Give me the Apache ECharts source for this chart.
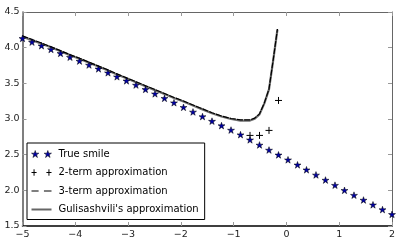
<!DOCTYPE html>
<html><head><meta charset="utf-8">
<script src="https://cdn.jsdelivr.net/npm/echarts@6/dist/echarts.min.js"></script>
<style>html,body{margin:0;padding:0;background:#fff}#c{width:399px;height:245px}</style>
</head><body><div id="c"></div>
<script>
// True smile (blue stars)
const smileX = [-5.00,-4.82,-4.64,-4.46,-4.28,-4.10,-3.92,-3.74,-3.56,-3.38,-3.21,-3.03,-2.85,-2.67,-2.49,-2.31,-2.13,-1.95,-1.77,-1.59,-1.41,-1.23,-1.05,-0.87,-0.69,-0.51,-0.33,-0.15,0.03,0.21,0.38,0.56,0.74,0.92,1.10,1.28,1.46,1.64,1.82,2.00];
const smileY = [4.13,4.078,4.027,3.975,3.92,3.866,3.812,3.757,3.703,3.648,3.592,3.535,3.476,3.415,3.353,3.29,3.228,3.164,3.099,3.034,2.97,2.907,2.845,2.78,2.708,2.636,2.565,2.497,2.428,2.357,2.288,2.216,2.144,2.072,2.0,1.932,1.864,1.797,1.73,1.663];
// 2-term approximation (+ markers, visible where it departs from the curves)
const twoX = [-0.69,-0.51,-0.33,-0.15];
const twoY = [2.77,2.77,2.84,3.26];
// 3-term and Gulisashvili curves
const lineX = [-5,-4.82,-4.64,-4.46,-4.28,-4.10,-3.92,-3.74,-3.56,-3.38,-3.21,-3.03,-2.85,-2.67,-2.49,-2.31,-2.13,-1.95,-1.77,-1.59,-1.41,-1.23,-1.05,-0.87,-0.69,-0.60,-0.51,-0.42,-0.33,-0.25,-0.17];
const threeY = [4.165,4.115,4.065,4.012,3.958,3.903,3.852,3.797,3.742,3.688,3.632,3.577,3.522,3.467,3.412,3.357,3.302,3.252,3.197,3.142,3.087,3.042,3.007,2.987,2.987,3.012,3.072,3.222,3.422,3.832,4.262];
const gulY = [4.155,4.105,4.055,4.005,3.95,3.895,3.845,3.79,3.735,3.68,3.625,3.57,3.515,3.46,3.405,3.35,3.295,3.245,3.19,3.135,3.08,3.035,3.0,2.978,2.978,3.005,3.065,3.215,3.415,3.825,4.255];
const xTicks = {min:-5, max:2, interval:1};
const yTicks = {min:1.5, max:4.5, interval:0.5};

const pair = (xs, ys) => xs.map((x,i)=>[x, ys[i]]);
const starPath = 'path://M50,0 L61.2,34.5 L97.6,34.5 L68.2,55.9 L79.4,90.5 L50,69.1 L20.6,90.5 L31.8,55.9 L2.4,34.5 L38.8,34.5 Z';
const plusPath = 'path://M5,0 L5,10 M0,5 L10,5';
const starPair = 'path://M19,1 L23.4,14.1 L37.1,14.1 L26.0,22.2 L30.2,35.4 L19,27.2 L7.8,35.4 L12.0,22.2 L0.9,14.1 L14.6,14.1 Z M81,1 L85.4,14.1 L99.1,14.1 L88.0,22.2 L92.2,35.4 L81,27.2 L69.8,35.4 L74.0,22.2 L62.9,14.1 L76.6,14.1 Z';
const plusPair = 'path://M15,0 L15,30 M3,15 L27,15 M85,0 L85,30 M73,15 L97,15';
const dashPair = 'path://M0,0 L32,0 L32,5 L0,5 Z M56,0 L90,0 L90,5 L56,5 Z';
const solidBar = 'path://M0,0 L90,0 L90,9 L0,9 Z';

const FONT = 'DejaVu Sans';
const chart = echarts.init(document.getElementById('c'), null, {renderer:'canvas'});
chart.setOption({
  animation:false,
  backgroundColor:'#fff',
  grid:{left:22.5, right:7, top:12, bottom:19, show:false},
  xAxis:[{
    type:'value', min:xTicks.min, max:xTicks.max, interval:xTicks.interval, position:'bottom',
    axisLine:{show:true, onZero:false, lineStyle:{color:'#000', width:1.5}},
    axisTick:{show:true, inside:true, length:4, lineStyle:{color:'#999'}},
    axisLabel:{color:'#222', fontFamily:FONT, fontSize:9.5, margin:4, formatter:v=>String(v).replace('-','\u2212')},
    splitLine:{show:false}
  },{
    type:'value', min:xTicks.min, max:xTicks.max, interval:xTicks.interval, position:'top',
    axisLine:{show:true, onZero:false, lineStyle:{color:'#666', width:1}},
    axisTick:{show:true, inside:true, length:4, lineStyle:{color:'#999'}},
    axisLabel:{show:false}, splitLine:{show:false}
  }],
  yAxis:[{
    type:'value', min:yTicks.min, max:yTicks.max, interval:yTicks.interval, position:'left',
    axisLine:{show:true, onZero:false, lineStyle:{color:'#555', width:1.5}},
    axisTick:{show:true, inside:true, length:4, lineStyle:{color:'#999'}},
    axisLabel:{color:'#222', fontFamily:FONT, fontSize:9.5, margin:3, formatter:v=>v.toFixed(1)},
    splitLine:{show:false}
  },{
    type:'value', min:yTicks.min, max:yTicks.max, interval:yTicks.interval, position:'right',
    axisLine:{show:true, onZero:false, lineStyle:{color:'#666', width:1}},
    axisTick:{show:true, inside:true, length:4, lineStyle:{color:'#999'}},
    axisLabel:{show:false}, splitLine:{show:false}
  }],
  legend:{
    orient:'vertical', left:27, top:143,
    backgroundColor:'#fff', borderColor:'#000', borderWidth:1, borderRadius:0,
    padding:[5,6,4,4], itemGap:6.5, itemWidth:20, itemHeight:7,
    textStyle:{fontFamily:FONT, fontSize:10, color:'#000', lineHeight:12, padding:[0,0,0,2]},
    data:[
      {name:'True smile', icon:starPair, itemStyle:{color:'#0000a8', borderColor:'#000', borderWidth:0.5}},
      {name:'2-term approximation', icon:plusPair, itemStyle:{color:'rgba(0,0,0,0)', borderColor:'#000', borderWidth:1}},
      {name:'3-term approximation', icon:dashPair, itemStyle:{color:'#000', borderWidth:0}},
      {name:"Gulisashvili's approximation", icon:solidBar, itemStyle:{color:'#666', borderWidth:0}}
    ]
  },
  series:[
    {name:"Gulisashvili's approximation", type:'line', data:pair(lineX, gulY), showSymbol:false, symbol:'none',
     lineStyle:{color:'#707070', width:2.2}, itemStyle:{color:'#666'}, z:2},
    {name:'3-term approximation', type:'line', data:pair(lineX, threeY), showSymbol:false, symbol:'none',
     lineStyle:{color:'#000', width:1.2, type:[6,1.2]}, itemStyle:{color:'#000'}, z:3},
    {name:'2-term approximation', type:'line', data:pair(twoX, twoY), lineStyle:{width:0, opacity:0},
     symbol:plusPath, symbolSize:7, showAllSymbol:true,
     itemStyle:{color:'rgba(0,0,0,0)', borderColor:'#000', borderWidth:1}, z:4},
    {name:'True smile', type:'scatter', data:pair(smileX, smileY), symbol:starPath, symbolSize:7, symbolKeepAspect:true,
     itemStyle:{color:'#0000a8', borderColor:'#000', borderWidth:0.5, opacity:1}, z:5}
  ]
});
</script></body></html>
